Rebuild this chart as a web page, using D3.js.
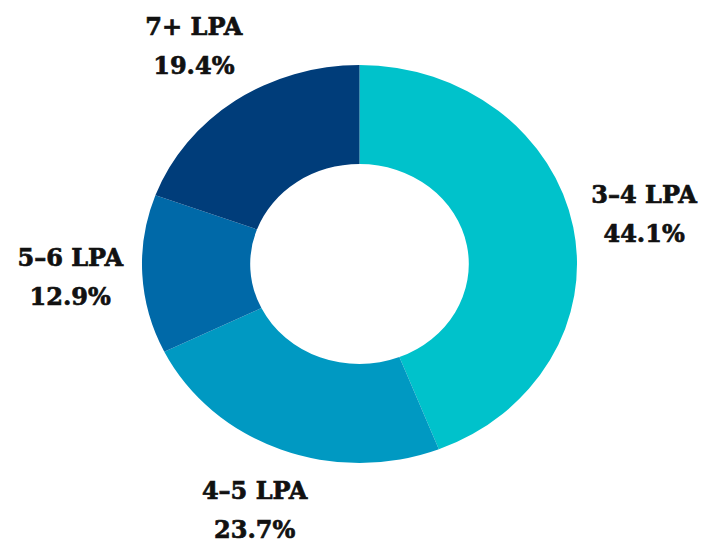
<!DOCTYPE html>
<html>
<head>
<meta charset="utf-8">
<script src="https://cdn.jsdelivr.net/npm/d3@7"></script>
<style>
  html, body { margin: 0; padding: 0; background: #ffffff; }
  svg { display: block; }
</style>
</head>
<body>
<svg id="chart" width="703" height="544"></svg>
<script>
const categories = ["3–4 LPA", "4–5 LPA", "5–6 LPA", "7+ LPA"];
const values = [44.1, 23.7, 12.9, 19.4];
const valueLabels = ["44.1%", "23.7%", "12.9%", "19.4%"];
const colors = ["#00C2CB", "#0099C2", "#0069A8", "#003D7A"];

const W = 703, H = 544;
const cx = 359.5, cy = 264;
const sx = 1.093;           // horizontal stretch seen in the reference
const outerR = 199, innerR = 100, labelR = 265;

const data = categories.map((c, i) => ({ cat: c, value: values[i], label: valueLabels[i], color: colors[i] }));

const pie = d3.pie().value(d => d.value).sort(null);
const arcs = pie(data);
const arc = d3.arc().innerRadius(innerR).outerRadius(outerR);
const labelArc = d3.arc().innerRadius(labelR).outerRadius(labelR);

const svg = d3.select("#chart");

svg.append("g")
  .attr("transform", `translate(${cx},${cy}) scale(${sx},1)`)
  .selectAll("path")
  .data(arcs)
  .join("path")
  .attr("d", arc)
  .attr("fill", d => d.data.color);

const lg = svg.append("g")
  .attr("font-family", "'DejaVu Serif', 'Liberation Serif', serif")
  .attr("font-weight", "bold")
  .attr("font-size", 24)
  .attr("fill", "#111111")
  .attr("stroke", "#111111")
  .attr("stroke-width", 0.7)
  .attr("text-anchor", "middle");

arcs.forEach(a => {
  const [lx, ly] = labelArc.centroid(a);
  const x = cx + lx * sx, y = cy + ly;
  lg.append("text").attr("x", x).attr("y", y - 12).text(a.data.cat);
  lg.append("text").attr("x", x).attr("y", y + 27).text(a.data.label);
});
</script>
</body>
</html>
